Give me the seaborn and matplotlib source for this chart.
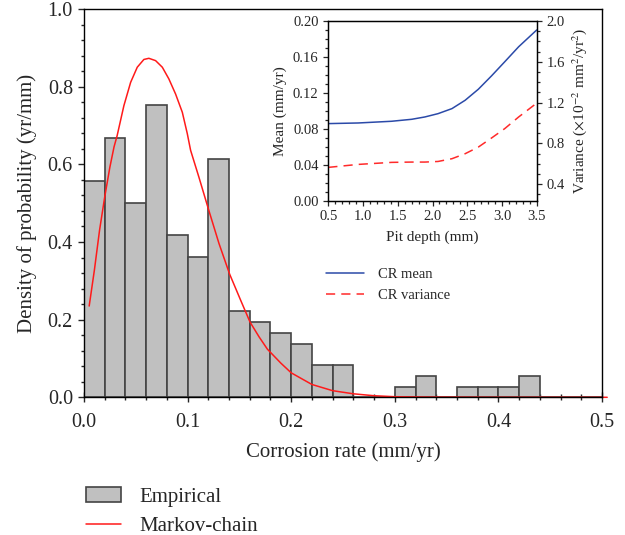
import matplotlib
matplotlib.use("Agg")
import matplotlib.pyplot as plt
from matplotlib.ticker import MultipleLocator, FormatStrFormatter
from matplotlib.patches import Patch
from matplotlib.lines import Line2D
import seaborn as sns

# empirical histogram (bin width 0.02 mm/yr)
bin_edges = [0.00, 0.02, 0.04, 0.06, 0.08, 0.10, 0.12, 0.14, 0.16, 0.18, 0.20, 0.22, 0.24,
             0.26, 0.28, 0.30, 0.32, 0.34, 0.36, 0.38, 0.40, 0.42, 0.44, 0.46, 0.48, 0.50]
bin_heights = [0.557, 0.668, 0.501, 0.753, 0.417, 0.361, 0.613, 0.223, 0.194, 0.166, 0.138, 0.083, 0.083,
               0.0, 0.0, 0.027, 0.055, 0.0, 0.027, 0.027, 0.027, 0.055, 0.0, 0.0, 0.0]

# Markov-chain density
markov_x = [0.005, 0.010, 0.015, 0.020, 0.025, 0.029, 0.032, 0.0385, 0.045, 0.0514, 0.0578, 0.0626,
            0.0691, 0.0756, 0.0819, 0.0884, 0.0949, 0.0997, 0.1029, 0.1109, 0.1203, 0.1303, 0.1406,
            0.1512, 0.1602, 0.1689, 0.177, 0.190, 0.200, 0.220, 0.240, 0.260, 0.280, 0.300, 0.330,
            0.400, 0.505]
markov_y = [0.235, 0.327, 0.430, 0.516, 0.593, 0.645, 0.674, 0.751, 0.811, 0.850, 0.870, 0.873,
            0.867, 0.850, 0.820, 0.781, 0.734, 0.679, 0.636, 0.567, 0.483, 0.396, 0.317,
            0.250, 0.194, 0.156, 0.124, 0.088, 0.063, 0.033, 0.017, 0.009, 0.004, 0.0015, 0.0005,
            0.0, 0.0]

# inset: CR statistics vs pit depth
depth = [0.5, 0.93, 1.41, 1.70, 1.89, 2.08, 2.28, 2.47, 2.66, 2.85, 3.04, 3.24, 3.5]
cr_mean = [0.0857, 0.0864, 0.0883, 0.0905, 0.0931, 0.0968, 0.1024, 0.1117, 0.1240, 0.1389, 0.1546, 0.1713, 0.190]
cr_var = [0.565, 0.594, 0.614, 0.617, 0.617, 0.623, 0.650, 0.699, 0.764, 0.853, 0.945, 1.059, 1.195]

sns.set_style("ticks")
plt.rcParams['font.family'] = ['Liberation Serif', 'DejaVu Serif']
plt.rcParams['mathtext.fontset'] = 'stix'

fig = plt.figure(figsize=(6.25, 5.35), dpi=100)
ax = fig.add_axes([0.1344, 0.2574, 0.8288, 0.7258])

centers = [(bin_edges[i] + bin_edges[i + 1]) / 2 for i in range(len(bin_heights))]
sns.histplot(x=centers, weights=bin_heights, bins=bin_edges, ax=ax, color='#c0c0c0',
             edgecolor='#444444', linewidth=1.2, alpha=1.0)
sns.lineplot(x=markov_x, y=markov_y, ax=ax, color='#ff1a1a', linewidth=1.1, clip_on=False,
             sort=False)

ax.set_xlim(0, 0.5)
ax.set_ylim(0, 1.0)
ax.xaxis.set_major_locator(MultipleLocator(0.1))
ax.xaxis.set_minor_locator(MultipleLocator(0.02))
ax.yaxis.set_major_locator(MultipleLocator(0.2))
ax.yaxis.set_minor_locator(MultipleLocator(0.04))
ax.xaxis.set_major_formatter(FormatStrFormatter('%.1f'))
ax.yaxis.set_major_formatter(FormatStrFormatter('%.1f'))
ax.tick_params(axis='x', which='major', direction='inout', length=7, width=1, labelsize=14.5, pad=8)
ax.tick_params(axis='x', which='minor', direction='inout', length=4.5, width=1)
ax.tick_params(axis='y', which='major', direction='out', length=4, width=1, labelsize=14.5, pad=4)
ax.tick_params(axis='y', which='minor', direction='out', length=2.5, width=1)
for s in ax.spines.values():
    s.set_linewidth(1.0)
    s.set_color('black')
ax.set_xlabel('Corrosion rate (mm/yr)', fontsize=15, labelpad=7)
ax.set_ylabel('Density of probability (yr/mm)', fontsize=15, labelpad=8)

handles = [Patch(facecolor='#c0c0c0', edgecolor='#444444', linewidth=1.2),
           Line2D([0], [0], color='#ff1a1a', linewidth=1.1)]
fig.legend(handles, ['Empirical', 'Markov-chain'], loc='upper left',
           bbox_to_anchor=(0.107, 0.125), frameon=False, fontsize=15,
           handlelength=1.7, handleheight=0.75, handletextpad=0.9, labelspacing=0.45)

# inset
ins = fig.add_axes([0.5253, 0.6252, 0.3334, 0.3355])
sns.lineplot(x=depth, y=cr_mean, ax=ins, color='#2b4aa8', linewidth=1.1)
ins.set_xlim(0.5, 3.5)
ins.set_ylim(0, 0.2)
ins.xaxis.set_major_locator(MultipleLocator(0.5))
ins.xaxis.set_minor_locator(MultipleLocator(0.1))
ins.yaxis.set_major_locator(MultipleLocator(0.04))
ins.yaxis.set_minor_locator(MultipleLocator(0.01))
ins.xaxis.set_major_formatter(FormatStrFormatter('%.1f'))
ins.yaxis.set_major_formatter(FormatStrFormatter('%.2f'))
ins.tick_params(which='major', direction='out', length=3.5, width=0.9, labelsize=10.5)
ins.tick_params(which='minor', direction='out', length=2, width=0.9)
ins.set_xlabel('Pit depth (mm)', fontsize=11, labelpad=5)
ins.set_ylabel('Mean (mm/yr)', fontsize=11, labelpad=4)

ins2 = ins.twinx()
sns.lineplot(x=depth, y=cr_var, ax=ins2, color='#ff2a2a', linewidth=1.1, dashes=False)
ins2.lines[0].set_dashes([6, 4])
ins2.set_ylim(0.24, 2.0)
ins2.yaxis.set_major_locator(MultipleLocator(0.4))
ins2.yaxis.set_minor_locator(MultipleLocator(0.1))
ins2.yaxis.set_major_formatter(FormatStrFormatter('%.1f'))
ins2.tick_params(which='major', direction='out', length=3.5, width=0.9, labelsize=10.5)
ins2.tick_params(which='minor', direction='out', length=2, width=0.9)
ins2.set_ylabel(r'Variance ($\times$10$^{-2}$ mm$^2$/yr$^2$)', fontsize=11, labelpad=4)
for a in (ins, ins2):
    for s in a.spines.values():
        s.set_linewidth(0.9)
        s.set_color('black')

ins_handles = [Line2D([0], [0], color='#2b4aa8', linewidth=1.1),
               Line2D([0], [0], color='#ff2a2a', linewidth=1.1, dashes=[6, 4])]
fig.legend(ins_handles, ['CR mean', 'CR variance'], loc='upper left',
           bbox_to_anchor=(0.5, 0.524), frameon=False, fontsize=10.5,
           handlelength=2.6, handletextpad=1.0, labelspacing=0.55)

fig.savefig('out.png', dpi=100)
